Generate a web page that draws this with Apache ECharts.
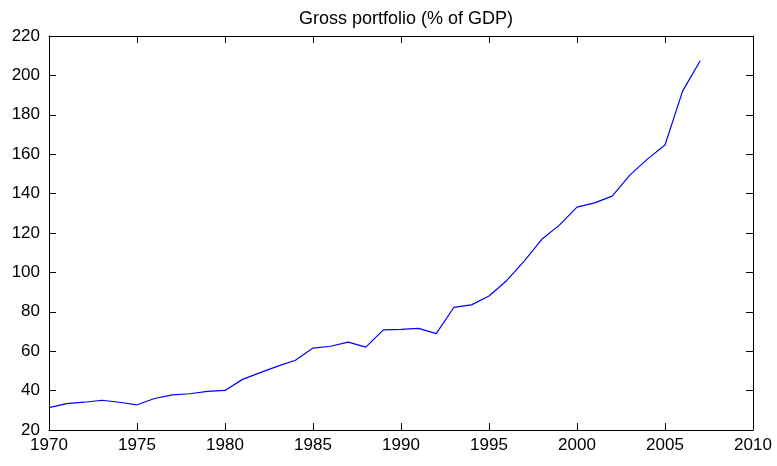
<!DOCTYPE html>
<html><head><meta charset="utf-8">
<script src="https://cdn.jsdelivr.net/npm/echarts@6/dist/echarts.min.js"></script>
<style>html,body{margin:0;padding:0;background:#fff}#c{width:777px;height:466px}</style>
</head><body><div id="c"></div>
<script>
const years = [1970,1971,1972,1973,1974,1975,1976,1977,1978,1979,1980,1981,1982,1983,1984,1985,1986,1987,1988,1989,1990,1991,1992,1993,1994,1995,1996,1997,1998,1999,2000,2001,2002,2003,2004,2005,2006,2007];
const values = [31.4,33.4,34.1,35.1,34.1,32.8,36.0,37.8,38.4,39.6,40.1,45.7,49.1,52.4,55.4,61.6,62.5,64.6,62.1,70.8,71.1,71.6,68.9,82.2,83.5,88.0,95.8,105.7,116.8,124.0,133.1,135.3,138.7,149.4,157.5,164.7,192.0,207.4];
const title = 'Gross portfolio (% of GDP)';
const font = 'Liberation Sans, Arial, Helvetica, sans-serif';
const chart = echarts.init(document.getElementById('c'));
const axLine = {show:true, lineStyle:{color:'#000', width:1}};
const tick = {show:true, inside:true, length:7, lineStyle:{color:'#000'}};
chart.setOption({
  animation:false,
  title:{text:title, left:401, textAlign:'center', top:5, textStyle:{fontFamily:font, fontSize:18, fontWeight:'normal', color:'#000'}},
  grid:{left:49, right:24, top:36, bottom:36},
  xAxis:[
    {type:'value', min:1970, max:2010, interval:5, axisLine:axLine, axisTick:tick, splitLine:{show:false},
     axisLabel:{color:'#000', fontFamily:font, fontSize:17, margin:7, formatter:v=>String(v)}},
    {type:'value', position:'top', min:1970, max:2010, interval:5, axisLine:axLine, axisTick:tick, splitLine:{show:false}, axisLabel:{show:false}}
  ],
  yAxis:[
    {type:'value', min:20, max:220, interval:20, axisLine:axLine, axisTick:tick, splitLine:{show:false},
     axisLabel:{color:'#000', fontFamily:font, fontSize:17, margin:9}},
    {type:'value', position:'right', min:20, max:220, interval:20, axisLine:axLine, axisTick:tick, splitLine:{show:false}, axisLabel:{show:false}}
  ],
  series:[{type:'line', data:years.map((y,i)=>[y,values[i]]), showSymbol:false, lineStyle:{color:'#0000ff', width:1.2}, xAxisIndex:0, yAxisIndex:0}]
});
</script></body></html>
